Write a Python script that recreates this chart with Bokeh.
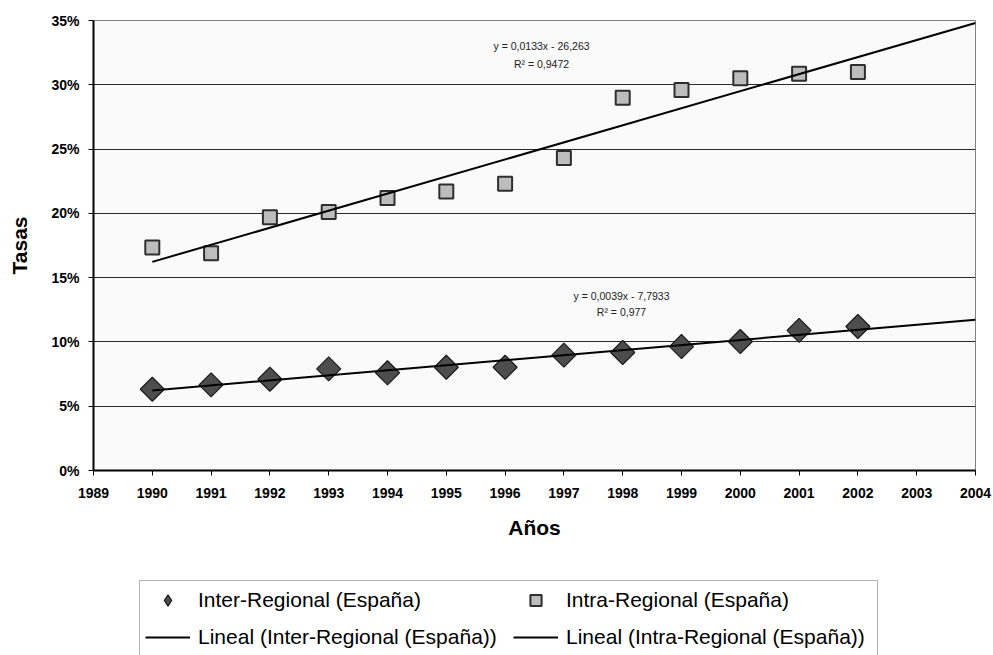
import numpy as np
from bokeh.plotting import figure
from bokeh.layouts import column
from bokeh.models import Range1d, FixedTicker, NumeralTickFormatter, Legend, LegendItem, Label
from bokeh.embed import file_html
from bokeh.resources import INLINE

# ---- data ----
years = [1990, 1991, 1992, 1993, 1994, 1995, 1996, 1997, 1998, 1999, 2000, 2001, 2002]
inter_regional = [0.0632, 0.0666, 0.0710, 0.0790, 0.0760, 0.0803, 0.0803,
                  0.0897, 0.0918, 0.0964, 0.1003, 0.1090, 0.1120]
intra_regional = [0.1734, 0.1690, 0.1970, 0.2010, 0.2120, 0.2170, 0.2230,
                  0.2430, 0.2900, 0.2960, 0.3050, 0.3085, 0.3100]
trend_span = [1990, 2004]
year_ticks = [1989, 1990, 1991, 1992, 1993, 1994, 1995, 1996, 1997, 1998,
              1999, 2000, 2001, 2002, 2003, 2004]
rate_ticks = [0.0, 0.05, 0.10, 0.15, 0.20, 0.25, 0.30, 0.35]
series_names = ["Inter-Regional (España)", "Intra-Regional (España)"]
trend_names = ["Lineal (Inter-Regional (España))", "Lineal (Intra-Regional (España))"]
eq_inter = ["y = 0,0039x - 7,7933", "R\u00b2 = 0,977"]
eq_intra = ["y = 0,0133x - 26,263", "R\u00b2 = 0,9472"]

# linear trend lines (least squares, extended to 2004)
fit_inter = np.polyfit(years, inter_regional, 1)
fit_intra = np.polyfit(years, intra_regional, 1)
trend_inter = list(np.polyval(fit_inter, trend_span))
trend_intra = list(np.polyval(fit_intra, trend_span))

FONT = "Liberation Sans"
INTER_FILL = dict(fill_color="#4d4d4d", line_color="#1a1a1a", line_width=1.2)
INTRA_STYLE = dict(marker="square", size=14,
                   fill_color="#bdbdbd", line_color="#2e2e2e", line_width=2)
TREND_STYLE = dict(line_color="black", line_width=2)

p = figure(width=993, height=555, output_backend="svg", toolbar_location=None,
           x_range=Range1d(1989, 2004), y_range=Range1d(0, 0.35),
           min_border_left=93, min_border_right=18, min_border_top=20,
           min_border_bottom=85)
p.background_fill_color = "#FAFAFA"
p.border_fill_color = "white"
p.outline_line_color = "#808080"
p.outline_line_width = 1

# grid
p.xgrid.visible = False
p.ygrid.ticker = FixedTicker(ticks=rate_ticks)
p.ygrid.grid_line_color = "#2a2a2a"
p.ygrid.grid_line_width = 1

# axes
p.xaxis.ticker = FixedTicker(ticks=year_ticks)
p.yaxis.ticker = FixedTicker(ticks=rate_ticks)
p.yaxis.formatter = NumeralTickFormatter(format="0%")
for ax in (p.xaxis[0], p.yaxis[0]):
    ax.axis_line_color = "black"
    ax.axis_line_width = 2
    ax.major_tick_line_color = "black"
    ax.major_tick_line_width = 1
    ax.major_tick_in = 0
    ax.major_tick_out = 5
    ax.minor_tick_line_color = None
    ax.major_label_text_font = FONT
    ax.major_label_text_font_style = "bold"
    ax.major_label_text_font_size = "14px"
    ax.major_label_text_color = "black"
    ax.axis_label_text_font = FONT
    ax.axis_label_text_font_style = "bold"
    ax.axis_label_text_font_size = "21px"
    ax.axis_label_text_color = "black"
p.xaxis.axis_label = "Años"
p.yaxis.axis_label = "Tasas"
p.xaxis.major_label_standoff = 12
p.yaxis.major_label_standoff = 9
p.xaxis.axis_label_standoff = 15
p.yaxis.axis_label_standoff = 17

# markers (diamonds = squares turned 45 degrees)
p.scatter(years, inter_regional, marker="square", size=17, angle=np.pi / 4, **INTER_FILL)
p.scatter(years, intra_regional, **INTRA_STYLE)

# trend lines
p.line(trend_span, trend_inter, **TREND_STYLE)
p.line(trend_span, trend_intra, **TREND_STYLE)

# equation labels
eq_style = dict(text_font=FONT, text_font_size="10.5px", text_color="#222222",
                text_align="center", text_baseline="middle")
p.add_layout(Label(x=1996.62, y=0.330, text=eq_intra[0], **eq_style))
p.add_layout(Label(x=1996.62, y=0.316, text=eq_intra[1], **eq_style))
p.add_layout(Label(x=1997.98, y=0.136, text=eq_inter[0], **eq_style))
p.add_layout(Label(x=1997.98, y=0.123, text=eq_inter[1], **eq_style))

# ---- legend strip below the chart ----
q = figure(width=993, height=100, output_backend="svg", toolbar_location=None,
           x_range=Range1d(1989, 2004), y_range=Range1d(0, 0.35),
           x_axis_type=None, y_axis_type=None, min_border=0)
q.outline_line_color = None
q.background_fill_color = "white"
q.border_fill_color = "white"
q.xgrid.visible = False
q.ygrid.visible = False
g_inter = q.scatter(years, inter_regional, marker="diamond", size=14, visible=False, **INTER_FILL)
g_intra = q.scatter(years, intra_regional, visible=False, **INTRA_STYLE)
g_tinter = q.line(trend_span, trend_inter, visible=False, **TREND_STYLE)
g_tintra = q.line(trend_span, trend_intra, visible=False, **TREND_STYLE)

legend = Legend(items=[
    LegendItem(label=series_names[0], renderers=[g_inter]),
    LegendItem(label=series_names[1], renderers=[g_intra]),
    LegendItem(label=trend_names[0], renderers=[g_tinter]),
    LegendItem(label=trend_names[1], renderers=[g_tintra]),
], orientation="horizontal", ncols=2, location=(46, -2))
legend.label_text_font = FONT
legend.label_text_font_size = "21px"
legend.label_text_color = "black"
legend.glyph_width = 45
legend.glyph_height = 28
legend.label_height = 28
legend.label_width = 306
legend.label_standoff = 8
legend.spacing = 9
legend.padding = 5
legend.margin = 0
legend.border_line_color = "#666666"
legend.border_line_width = 1
legend.background_fill_color = "white"
legend.background_fill_alpha = 1
legend.inactive_fill_alpha = 0
legend.click_policy = "none"
q.add_layout(legend, "center")

layout = column(p, q, spacing=0)
open("out.html", "w").write(file_html(layout, INLINE))
